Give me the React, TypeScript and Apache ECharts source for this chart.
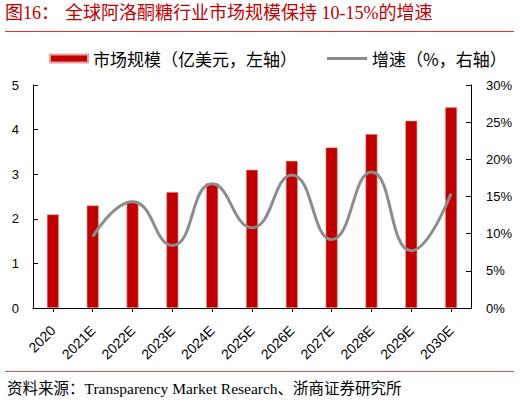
import React, { useEffect, useRef } from 'react';
import * as echarts from 'echarts';

const years = ['2020', '2021E', '2022E', '2023E', '2024E', '2025E', '2026E', '2027E', '2028E', '2029E', '2030E'];
// 市场规模（亿美元）
const marketSize = [2.1, 2.3, 2.4, 2.6, 2.8, 3.1, 3.3, 3.6, 3.9, 4.2, 4.5];
// 增速（%）
const growthRate = [null, 9.6, 14.3, 8.4, 16.7, 10.8, 17.9, 9.2, 18.3, 7.7, 15.4];

const barName = '市场规模（亿美元，左轴）';
const lineName = '增速（%，右轴）';
const titleLabel = '图16：';
const titleText = '全球阿洛酮糖行业市场规模保持 10-15%的增速';
const sourceText = '资料来源：Transparency Market Research、浙商证券研究所';

const RED = '#c00000';
const GREY = '#8c8c8c';
const CJK = "'Noto Sans CJK SC'";
const SERIF = "'Liberation Serif', 'Noto Sans CJK SC'";
const SANS = "'Liberation Sans', Arial, sans-serif";

const legendText = { fontFamily: CJK, fontSize: 17, color: '#000' };

const App: React.FC = () => {
  const chartRef = useRef<HTMLDivElement | null>(null);

  useEffect(() => {
    if (!chartRef.current) return;
    const chart = echarts.init(chartRef.current, null, { renderer: 'svg' });

    const option = {
      animation: false,
      backgroundColor: '#fff',
      grid: { left: 33, right: 49, top: 85, bottom: 96 },
      legend: [
        {
          left: 44,
          top: 45,
          itemWidth: 38,
          itemHeight: 8,
          textStyle: legendText,
          data: [{ name: barName, icon: 'rect' }],
        },
        {
          left: 322,
          top: 45,
          itemWidth: 40,
          itemHeight: 3,
          textStyle: legendText,
          data: [{ name: lineName, icon: 'rect', itemStyle: { color: GREY } }],
        },
      ],
      xAxis: {
        type: 'category',
        data: years,
        axisLine: { lineStyle: { color: '#000', width: 1 } },
        axisTick: { show: true, alignWithLabel: true, length: 4, lineStyle: { color: '#000' } },
        axisLabel: {
          interval: 0,
          rotate: 45,
          fontFamily: SANS,
          fontSize: 14,
          color: '#000',
          margin: 20,
        },
      },
      yAxis: [
        {
          type: 'value',
          min: 0,
          max: 5,
          interval: 1,
          splitLine: { show: false },
          axisLine: { show: true, lineStyle: { color: '#000' } },
          axisTick: { show: true, inside: true, length: 5, lineStyle: { color: '#000' } },
          axisLabel: { fontFamily: SANS, fontSize: 13, color: '#000', margin: 14 },
        },
        {
          type: 'value',
          min: 0,
          max: 30,
          interval: 5,
          splitLine: { show: false },
          axisLine: { show: true, lineStyle: { color: '#000' } },
          axisTick: { show: true, inside: true, length: 5, lineStyle: { color: '#000' } },
          axisLabel: { fontFamily: SANS, fontSize: 13, color: '#000', margin: 15, formatter: '{value}%' },
        },
      ],
      series: [
        {
          name: barName,
          type: 'bar',
          yAxisIndex: 0,
          data: marketSize,
          barWidth: 12,
          itemStyle: { color: RED, borderColor: '#eaa0a0', borderWidth: 0.6 },
        },
        {
          name: lineName,
          type: 'line',
          yAxisIndex: 1,
          data: growthRate,
          smooth: 0.5,
          symbol: 'none',
          lineStyle: { color: GREY, width: 3 },
          itemStyle: { color: GREY },
        },
      ],
      graphic: [
        {
          type: 'text',
          left: 5,
          top: 4,
          style: { text: titleLabel, fill: RED, fontFamily: SERIF, fontSize: 18 },
        },
        {
          type: 'text',
          left: 65,
          top: 4,
          style: { text: titleText, fill: RED, fontFamily: SERIF, fontSize: 18 },
        },
        {
          type: 'line',
          shape: { x1: 5, y1: 31.5, x2: 514, y2: 31.5 },
          style: { stroke: '#d33', lineWidth: 1 },
        },
        {
          type: 'line',
          shape: { x1: 5, y1: 371.5, x2: 514, y2: 371.5 },
          style: { stroke: '#e05050', lineWidth: 1 },
        },
        {
          type: 'text',
          left: 7,
          top: 381,
          style: { text: sourceText, fill: '#000', fontFamily: SERIF, fontSize: 15.5 },
        },
      ],
    };

    chart.setOption(option);

    return () => {
      chart.dispose();
    };
  }, []);

  return (
    <div
      ref={chartRef}
      style={{ position: 'absolute', left: 0, top: 0, width: '520px', height: '404px' }}
    />
  );
};

export default App;
